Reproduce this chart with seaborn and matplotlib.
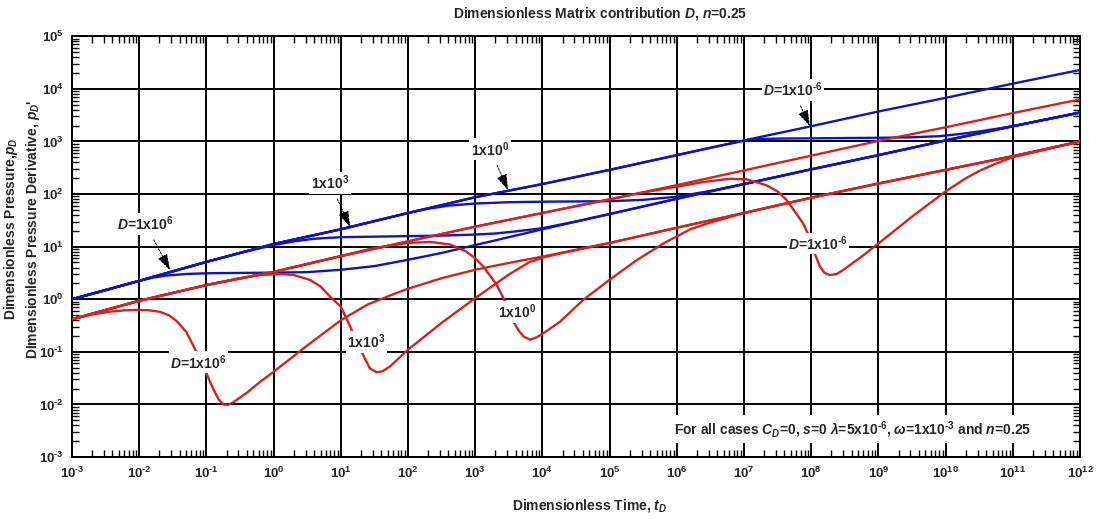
import numpy as np
import pandas as pd
import matplotlib
matplotlib.use("Agg")
import matplotlib.pyplot as plt
from matplotlib.ticker import FixedLocator, FixedFormatter, NullFormatter
import seaborn as sns

# ---------------------------------------------------------------------------
# Data: log10(tD) and log10(value) pairs for each curve
# ---------------------------------------------------------------------------
# Dimensionless pressure, no matrix contribution (upper reference line)
ref_pd_logt = [-3, -2, -1, 0, 1, 2, 3, 4, 5, 6, 7, 8, 9, 10, 11, 12]
ref_pd_logp = [0, 0.35, 0.71, 1.05, 1.33, 1.64, 1.94, 2.19, 2.46, 2.74, 3.02, 3.29, 3.57, 3.83, 4.10, 4.36]

# Dimensionless pressure derivative, no matrix contribution
ref_dpd_logt = [-3, -2, -1, 0, 1, 2, 3, 4, 5, 6, 7, 8, 9, 10, 11, 12]
ref_dpd_logp = [-0.38, -0.03, 0.27, 0.52, 0.82, 1.10, 1.38, 1.64, 1.90, 2.17, 2.45, 2.73, 3.01, 3.27, 3.54, 3.80]

# Pressure, D = 1e6
pd_d6_logt = [-3, -2.5, -2.2, -2, -1.8, -1.6, -1.3, -1, -0.5, 0, 0.5, 1, 1.5, 2, 2.5, 3, 3.5, 4,
              5, 6, 7, 8, 9, 10, 11, 12]
pd_d6_logp = [0, 0.17, 0.28, 0.35, 0.41, 0.45, 0.48, 0.494, 0.50, 0.506, 0.515, 0.56, 0.63, 0.75,
              0.88, 1.03, 1.18, 1.33, 1.62, 1.91, 2.19, 2.47, 2.74, 3.02, 3.29, 3.55]

# Pressure, D = 1e3
pd_d3_logt = [-3, -2, -1, -0.5, 0, 0.3, 0.6, 1, 1.5, 2, 2.5, 3, 3.3, 3.6, 4, 4.5, 5, 6, 7, 8, 9,
              10, 11, 12]
pd_d3_logp = [0, 0.35, 0.71, 0.88, 1.03, 1.10, 1.15, 1.18, 1.19, 1.20, 1.21, 1.23, 1.25, 1.29,
              1.35, 1.48, 1.62, 1.91, 2.19, 2.47, 2.74, 3.02, 3.29, 3.55]

# Pressure, D = 1e0
pd_d0_logt = [-3, -2, -1, 0, 1, 2, 2.3, 2.6, 3, 3.5, 4, 4.5, 5, 5.5, 6, 6.5, 7, 8, 9, 10, 11, 12]
pd_d0_logp = [0, 0.35, 0.71, 1.05, 1.33, 1.64, 1.72, 1.78, 1.82, 1.845, 1.855, 1.86, 1.865, 1.89,
              1.95, 2.06, 2.19, 2.47, 2.74, 3.02, 3.29, 3.55]

# Pressure, D = 1e-6
pd_dm6_logt = [-3, -2, -1, 0, 1, 2, 3, 4, 5, 6, 6.5, 6.8, 7.1, 7.5, 8, 8.5, 9, 9.5, 9.9, 10.2,
               10.5, 11, 12]
pd_dm6_logp = [0, 0.35, 0.71, 1.05, 1.33, 1.64, 1.94, 2.19, 2.46, 2.74, 2.88, 2.96, 3.04, 3.055,
               3.06, 3.065, 3.07, 3.08, 3.10, 3.14, 3.19, 3.29, 3.55]

# Derivative, D = 1e6
dpd_d6_logt = [-3, -2.7, -2.43, -2.2, -2, -1.85, -1.69, -1.55, -1.44, -1.3, -1.2, -1.1, -1.0,
               -0.9, -0.82, -0.75, -0.68, -0.6, -0.4, -0.2, 0, 0.5, 1, 1.4, 1.75, 2, 2.5, 3, 3.5,
               4, 5, 6, 7, 8, 9, 10, 11, 12]
dpd_d6_logp = [-0.38, -0.29, -0.235, -0.21, -0.203, -0.21, -0.24, -0.31, -0.42, -0.62, -0.87,
               -1.13, -1.41, -1.70, -1.90, -2.0, -2.01, -1.96, -1.78, -1.57, -1.38, -0.88, -0.40,
               -0.10, 0.08, 0.20, 0.40, 0.56, 0.69, 0.81, 1.07, 1.36, 1.64, 1.93, 2.20, 2.46,
               2.72, 3.0]

# Derivative, D = 1e3
dpd_d3_logt = [-3, -2, -1, -0.5, -0.2, 0.1, 0.3, 0.54, 0.7, 0.84, 1.0, 1.14, 1.22, 1.31, 1.43,
               1.53, 1.62, 1.73, 2.0, 2.5, 3.0, 3.5, 3.8, 4.0, 4.3, 5, 6, 7, 8, 9, 10, 11, 12]
dpd_d3_logp = [-0.38, -0.03, 0.27, 0.40, 0.46, 0.48, 0.46, 0.37, 0.24, 0.05, -0.14, -0.52, -0.75,
               -1.0, -1.31, -1.39, -1.37, -1.28, -0.96, -0.45, 0.02, 0.47, 0.70, 0.79, 0.88,
               1.07, 1.36, 1.64, 1.93, 2.20, 2.46, 2.72, 3.0]

# Derivative, D = 1e0
dpd_d0_logt = [-3, -2, -1, 0, 1, 1.48, 2, 2.33, 2.63, 2.87, 3.0, 3.12, 3.22, 3.32, 3.42, 3.5,
               3.57, 3.65, 3.72, 3.82, 3.92, 4.01, 4.26, 4.61, 5.0, 5.4, 5.8, 6.2, 6.5, 7, 8, 9,
               10, 11, 12]
dpd_d0_logp = [-0.38, -0.03, 0.27, 0.52, 0.82, 0.97, 1.07, 1.09, 1.04, 0.905, 0.78, 0.62, 0.45,
               0.27, 0.02, -0.2, -0.43, -0.60, -0.71, -0.77, -0.72, -0.65, -0.43, -0.01, 0.37,
               0.74, 1.06, 1.33, 1.46, 1.64, 1.93, 2.20, 2.46, 2.72, 3.0]

# Derivative, D = 1e-6
dpd_dm6_logt = [-3, -2, -1, 0, 1, 2, 3, 4, 5, 5.5, 6, 6.4, 6.79, 7.04, 7.33, 7.5, 7.63, 7.75,
                7.88, 7.95, 8.03, 8.13, 8.2, 8.28, 8.38, 8.48, 8.75, 9.0, 9.5, 10.0, 10.3, 10.5,
                10.66, 10.85, 11, 12]
dpd_dm6_logp = [-0.38, -0.03, 0.27, 0.52, 0.82, 1.10, 1.38, 1.64, 1.90, 2.03, 2.14, 2.23, 2.29,
                2.28, 2.17, 2.05, 1.89, 1.68, 1.44, 1.25, 0.94, 0.62, 0.50, 0.46, 0.48, 0.56,
                0.81, 1.06, 1.57, 2.05, 2.30, 2.44, 2.53, 2.63, 2.70, 3.0]

# Axis decades
x_decades = list(range(-3, 13))
y_decades = list(range(-3, 6))

# Curve labels on the pressure curves (text position, arrow target), log10 coords
pd_labels = [r"$D$=1x10$^{6}$", r"1x10$^{3}$", r"1x10$^{0}$", r"$D$=1x10$^{\text{-}6}$"]
pd_label_xy = [(-1.91, 1.43), (0.84, 2.21), (3.22, 2.85), (7.73, 3.98)]
pd_label_tip = [(-1.54, 0.55), (1.14, 1.37), (3.49, 2.07), (7.98, 3.29)]

# Curve labels on the derivative curves
dpd_labels = [r"$D$=1x10$^{6}$", r"1x10$^{3}$", r"1x10$^{0}$", r"$D$=1x10$^{\text{-}6}$"]
dpd_label_xy = [(-1.12, -1.2), (1.38, -0.81), (3.62, -0.235), (8.1, 1.06)]

# ---------------------------------------------------------------------------
# Style
# ---------------------------------------------------------------------------
sns.set_style("white")
plt.rcParams["font.family"] = ["Liberation Sans", "DejaVu Sans"]
plt.rcParams["font.weight"] = "bold"
plt.rcParams["mathtext.fontset"] = "custom"
plt.rcParams["mathtext.rm"] = "Liberation Sans:bold"
plt.rcParams["mathtext.it"] = "Liberation Sans:italic:bold"
plt.rcParams["mathtext.bf"] = "Liberation Sans:bold"
plt.rcParams["mathtext.sf"] = "Liberation Sans:bold"
plt.rcParams["mathtext.default"] = "it"

BLUE = "#1212c0"
RED = "#d42222"


def decade_label(e):
    """Power-of-ten label with an ASCII hyphen for negative exponents."""
    sup = r"\text{-}%d" % (-e) if e < 0 else "%d" % e
    return r"10$^{%s}$" % sup


fig = plt.figure(figsize=(11.0, 5.19), dpi=100)
ax = fig.add_axes([72 / 1100, 1 - 457 / 519, 1008 / 1100, 420.7 / 519])

curves = [
    (ref_pd_logt, ref_pd_logp, BLUE),
    (pd_d6_logt, pd_d6_logp, BLUE),
    (pd_d3_logt, pd_d3_logp, BLUE),
    (pd_d0_logt, pd_d0_logp, BLUE),
    (pd_dm6_logt, pd_dm6_logp, BLUE),
    (ref_dpd_logt, ref_dpd_logp, RED),
    (dpd_d6_logt, dpd_d6_logp, RED),
    (dpd_d3_logt, dpd_d3_logp, RED),
    (dpd_d0_logt, dpd_d0_logp, RED),
    (dpd_dm6_logt, dpd_dm6_logp, RED),
]

for logt, logp, color in curves:
    df = pd.DataFrame({"tD": 10.0 ** np.asarray(logt), "val": 10.0 ** np.asarray(logp)})
    sns.lineplot(data=df, x="tD", y="val", ax=ax, color=color, linewidth=1.7,
                 estimator=None, sort=False, zorder=3)

ax.set_xscale("log")
ax.set_yscale("log")
ax.set_xlim(10.0 ** x_decades[0], 10.0 ** x_decades[-1])
ax.set_ylim(10.0 ** y_decades[0], 10.0 ** y_decades[-1])
ax.set_xlabel("")
ax.set_ylabel("")

# Decade ticks and labels
ax.xaxis.set_major_locator(FixedLocator([10.0 ** e for e in x_decades]))
ax.xaxis.set_major_formatter(FixedFormatter([decade_label(e) for e in x_decades]))
ax.yaxis.set_major_locator(FixedLocator([10.0 ** e for e in y_decades]))
ax.yaxis.set_major_formatter(FixedFormatter([decade_label(e) for e in y_decades]))

x_minor = [m * 10.0 ** e for e in x_decades[:-1] for m in range(2, 10)]
y_minor = [m * 10.0 ** e for e in y_decades[:-1] for m in range(2, 10)]
ax.xaxis.set_minor_locator(FixedLocator(x_minor))
ax.yaxis.set_minor_locator(FixedLocator(y_minor))
ax.xaxis.set_minor_formatter(NullFormatter())
ax.yaxis.set_minor_formatter(NullFormatter())

ax.tick_params(which="major", direction="in", length=0, labelsize=9.5, pad=6,
               top=True, right=True)
ax.tick_params(which="minor", direction="in", length=5, width=1.0, color="black",
               top=True, right=True, bottom=True, left=True)
for lbl in ax.get_xticklabels() + ax.get_yticklabels():
    lbl.set_fontweight("bold")

ax.grid(which="major", color="black", linewidth=1.4)
ax.grid(which="minor", visible=False)
ax.set_axisbelow(True)
for sp in ax.spines.values():
    sp.set_visible(True)
    sp.set_color("black")
    sp.set_linewidth(1.4)

# Curve labels
box = dict(boxstyle="square,pad=0.12", fc="white", ec="none")
for txt, (tx, ty), (px, py) in zip(pd_labels, pd_label_xy, pd_label_tip):
    ax.annotate(txt, xy=(10.0 ** px, 10.0 ** py), xytext=(10.0 ** tx, 10.0 ** ty),
                ha="center", va="center", fontsize=10, fontweight="bold", bbox=box,
                zorder=5,
                arrowprops=dict(arrowstyle="-|>,head_length=1.0,head_width=0.32",
                                color="black", lw=0.7, linestyle=(0, (2, 1.5)),
                                shrinkA=4, shrinkB=0))

for txt, (tx, ty) in zip(dpd_labels, dpd_label_xy):
    ax.text(10.0 ** tx, 10.0 ** ty, txt, ha="center", va="center", fontsize=10,
            fontweight="bold", bbox=box, zorder=5)

ax.text(0.774, 0.066,
        r"For all cases $C_D$=0, $s$=0 $\lambda$=5x10$^{\text{-}6}$, $\omega$=1x10$^{\text{-}3}$ and $n$=0.25",
        transform=ax.transAxes, ha="center", va="center", fontsize=10, fontweight="bold",
        bbox=dict(boxstyle="square,pad=0.25", fc="white", ec="none"), zorder=5)

# Titles and axis labels
fig.text(600 / 1100, 1 - 13 / 519, r"Dimensionless Matrix contribution $D$, $n$=0.25",
         ha="center", va="center", fontsize=10, fontweight="bold")
fig.text(590 / 1100, 1 - 505 / 519, r"Dimensionless Time, $t_D$",
         ha="center", va="center", fontsize=10, fontweight="bold")
fig.text(22 / 1100, 1 - 229 / 519,
         "Dimensionless Pressure,$p_D$\nDImensionless Pressure Derivative, $p_D$'",
         ha="center", va="center", rotation=90, fontsize=10, fontweight="bold",
         multialignment="center", linespacing=1.25)

fig.savefig("out.png", dpi=100, facecolor="white")
